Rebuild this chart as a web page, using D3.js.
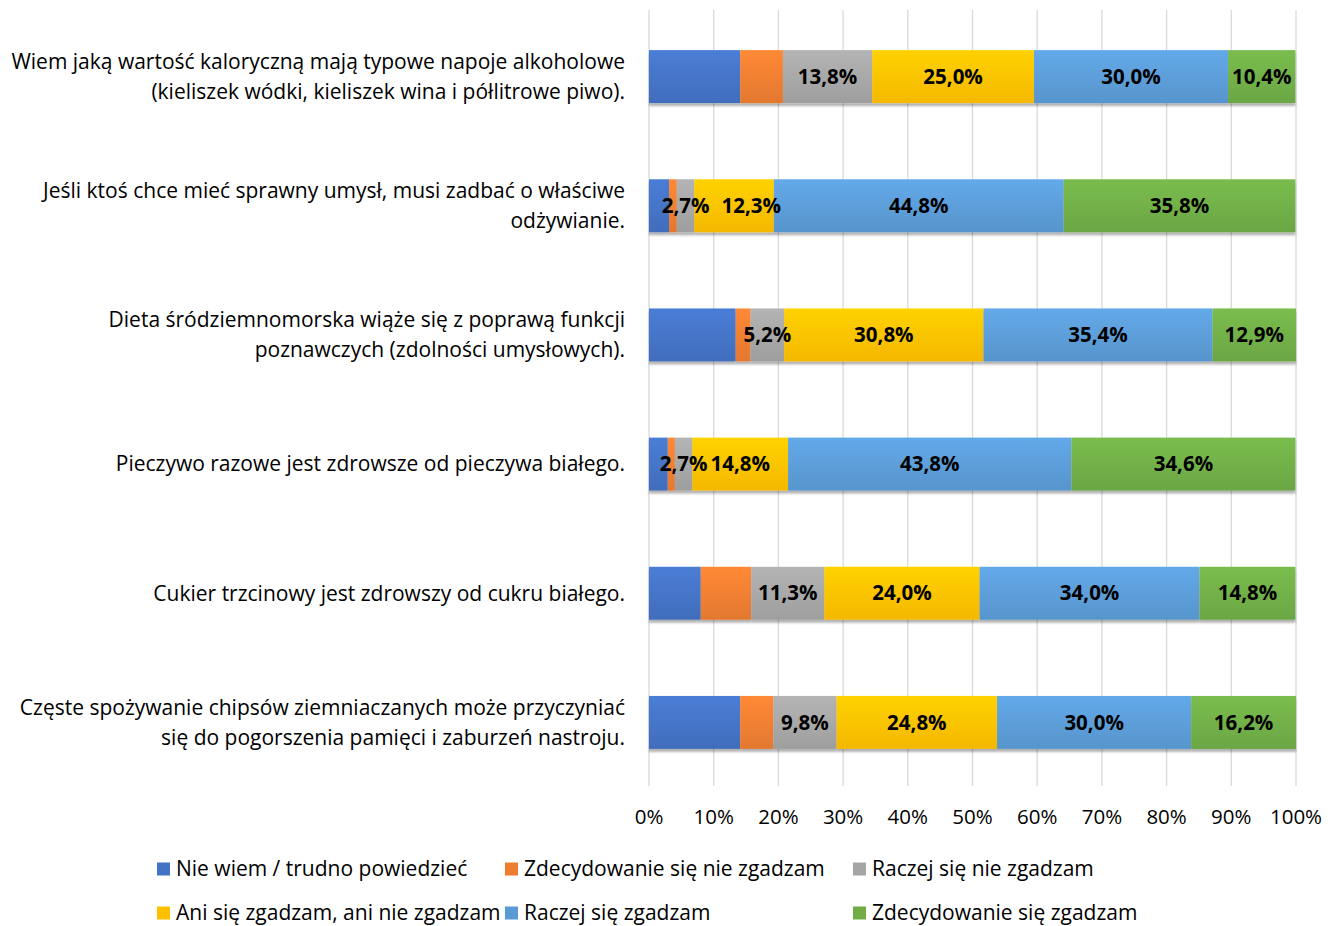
<!DOCTYPE html>
<html>
<head>
<meta charset="utf-8">
<script src="https://cdn.jsdelivr.net/npm/d3@7"></script>
<style>
  body { margin: 0; background: #fff; }
  text { font-family: "Open Sans", Lato, sans-serif; fill: #000; }
</style>
</head>
<body>
<div id="chart"></div>
<script>
var categories = [
  ["Wiem jaką wartość kaloryczną mają typowe napoje alkoholowe", "(kieliszek wódki, kieliszek wina i półlitrowe piwo)."],
  ["Jeśli ktoś chce mieć sprawny umysł, musi zadbać o właściwe", "odżywianie."],
  ["Dieta śródziemnomorska wiąże się z poprawą funkcji", "poznawczych (zdolności umysłowych)."],
  ["Pieczywo razowe jest zdrowsze od pieczywa białego."],
  ["Cukier trzcinowy jest zdrowszy od cukru białego."],
  ["Częste spożywanie chipsów ziemniaczanych może przyczyniać", "się do pogorszenia pamięci i zaburzeń nastroju."]
];
var series = ["Nie wiem / trudno powiedzieć", "Zdecydowanie się nie zgadzam", "Raczej się nie zgadzam",
              "Ani się zgadzam, ani nie zgadzam", "Raczej się zgadzam", "Zdecydowanie się zgadzam"];
var colors = ["#4472C4", "#ED7D31", "#A5A5A5", "#FFC000", "#5B9BD5", "#70AD47"];
// values in %, one array per series, in category order
var nieWiem        = [14.1, 3.1, 13.4, 2.9, 8.0, 14.1];
var zdecNie        = [6.6, 1.2, 2.3, 1.1, 7.8, 5.1];
var raczejNie      = [13.8, 2.7, 5.2, 2.7, 11.3, 9.8];
var aniAni         = [25.0, 12.3, 30.8, 14.8, 24.0, 24.8];
var raczejTak      = [30.0, 44.8, 35.4, 43.8, 34.0, 30.0];
var zdecTak        = [10.4, 35.8, 12.9, 34.6, 14.8, 16.2];
var labelled = [false, false, true, true, true, true];
var ticks = [0, 10, 20, 30, 40, 50, 60, 70, 80, 90, 100];

var values = [nieWiem, zdecNie, raczejNie, aniAni, raczejTak, zdecTak];

var width = 1337, height = 926;
var margin = { top: 12, left: 649, right: 41, bottom: 139 };

var svg = d3.select("#chart").append("svg")
  .attr("width", width).attr("height", height);

var defs = svg.append("defs");
colors.forEach(function (c, i) {
  var g = defs.append("linearGradient").attr("id", "grad" + i)
    .attr("x1", 0).attr("y1", 0).attr("x2", 0).attr("y2", 1);
  g.append("stop").attr("offset", "0%").attr("stop-color", d3.color(c).brighter(0.25));
  g.append("stop").attr("offset", "100%").attr("stop-color", d3.color(c).darker(0.12));
});
var shadow = defs.append("filter").attr("id", "shadow")
  .attr("x", "-5%").attr("y", "-20%").attr("width", "110%").attr("height", "150%");
shadow.append("feDropShadow").attr("dx", 0).attr("dy", 3).attr("stdDeviation", 1.2)
  .attr("flood-color", "#000").attr("flood-opacity", 0.3);

var x = d3.scaleLinear().domain([0, 100]).range([margin.left, width - margin.right]);
var y = d3.scaleBand().domain(d3.range(categories.length))
  .range([margin.top, height - margin.bottom]).paddingInner(0.59).paddingOuter(0.295);

// gridlines
svg.append("g").selectAll("line").data(ticks).enter().append("line")
  .attr("x1", function (d) { return x(d); }).attr("x2", function (d) { return x(d); })
  .attr("y1", 10).attr("y2", 786)
  .attr("stroke", "#d9d9d9").attr("stroke-width", 1.3);

// stacked rows
var rows = categories.map(function (c, i) {
  var acc = 0;
  return values.map(function (s, k) {
    var seg = { cat: i, k: k, x0: acc, x1: acc + s[i], v: s[i] };
    acc += s[i];
    return seg;
  });
});

var bars = svg.append("g").attr("filter", "url(#shadow)");
rows.forEach(function (r) {
  bars.selectAll(null).data(r).enter().append("rect")
    .attr("x", function (d) { return x(d.x0); })
    .attr("width", function (d) { return x(d.x1) - x(d.x0); })
    .attr("y", function (d) { return y(d.cat); })
    .attr("height", y.bandwidth())
    .attr("fill", function (d) { return "url(#grad" + d.k + ")"; });
});

var fmt = d3.format(".1f");
var lbl = svg.append("g");
rows.forEach(function (r) {
  var prevRight = -Infinity;
  lbl.selectAll(null).data(r.filter(function (d) { return labelled[d.k]; })).enter().append("text")
    .attr("x", function (d) { return (x(d.x0) + x(d.x1)) / 2; })
    .attr("y", function (d) { return y(d.cat) + y.bandwidth() / 2; })
    .attr("dy", "0.35em")
    .attr("text-anchor", "middle")
    .style("font-size", "20.5px").style("font-weight", "bold")
    .text(function (d) { return fmt(d.v).replace(".", ",") + "%"; })
    .each(function () {
      // nudge a label right when it runs into the one before it
      var b = this.getBBox();
      if (b.x < prevRight) {
        var shift = prevRight + 12 - b.x;
        d3.select(this).attr("x", +d3.select(this).attr("x") + shift);
        b = this.getBBox();
      }
      prevRight = b.x + b.width;
    });
});

// category labels
var cl = svg.append("g");
categories.forEach(function (lines, i) {
  var cy = y(i) + y.bandwidth() / 2;
  var t = cl.append("text")
    .attr("text-anchor", "end")
    .style("font-size", "21px");
  lines.forEach(function (ln, j) {
    t.append("tspan").attr("x", 625)
      .attr("y", cy + (j - (lines.length - 1) / 2) * 30)
      .attr("dy", "0.35em")
      .text(ln);
  });
});

// x axis labels
svg.append("g").selectAll("text").data(ticks).enter().append("text")
  .attr("x", function (d) { return x(d); })
  .attr("y", 817).attr("dy", "0.35em")
  .attr("text-anchor", "middle")
  .style("font-size", "20.5px")
  .text(function (d) { return d + "%"; });

// legend
var legX = [157, 505, 853], legY = [869, 913];
var leg = svg.append("g");
series.forEach(function (s, i) {
  var lx = legX[i % 3], ly = legY[Math.floor(i / 3)];
  leg.append("rect").attr("x", lx).attr("y", ly - 6.5).attr("width", 13).attr("height", 13)
    .attr("fill", colors[i]);
  leg.append("text").attr("x", lx + 19).attr("y", ly).attr("dy", "0.35em")
    .style("font-size", "21px").text(s);
});
</script>
</body>
</html>
